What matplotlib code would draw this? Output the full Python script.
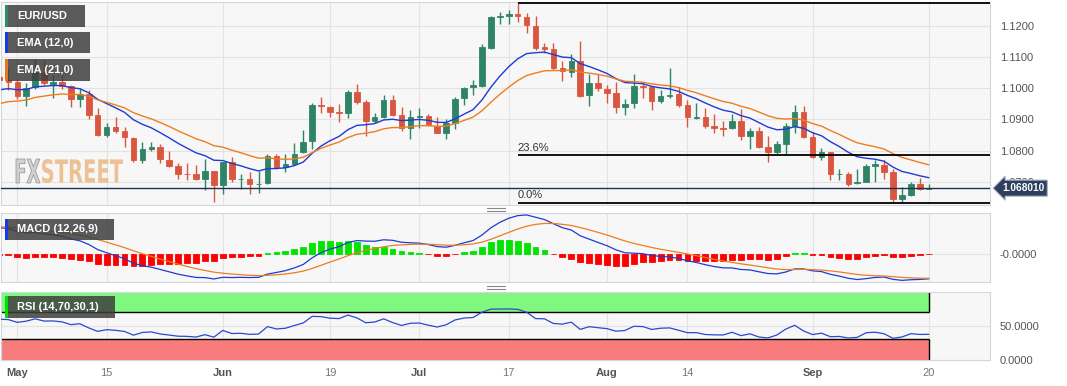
import numpy as np
import matplotlib.pyplot as plt
from matplotlib.patches import Rectangle, PathPatch
from matplotlib.lines import Line2D
from matplotlib.transforms import Affine2D
from matplotlib.textpath import TextPath
from matplotlib.font_manager import FontProperties

plt.rcParams['font.family'] = ['Liberation Sans', 'DejaVu Sans']

''' DATA '''

# EUR/USD daily candles, 27 Apr - 20 Sep 2023
opens = [1.1036, 1.1027, 1.1020, 1.0975, 1.1003, 1.1052, 1.1015, 1.1020, 1.1007, 1.0965,
         1.0980, 1.0914, 1.0850, 1.0875, 1.0862, 1.0840, 1.0769, 1.0804, 1.0811, 1.0769,
         1.0750, 1.0727, 1.0727, 1.0708, 1.0734, 1.0689, 1.0763, 1.0708, 1.0711, 1.0692,
         1.0698, 1.0782, 1.0749, 1.0759, 1.0795, 1.0830, 1.0946, 1.0940, 1.0923, 1.0920,
         1.0987, 1.0956, 1.0894, 1.0907, 1.0962, 1.0914, 1.0872, 1.0907, 1.0911, 1.0879,
         1.0856, 1.0888, 1.0969, 1.1004, 1.1007, 1.1129, 1.1229, 1.1232, 1.1239, 1.1229,
         1.1200, 1.1132, 1.1126, 1.1065, 1.1052, 1.1087, 1.0978, 1.1017, 1.0997, 1.0984,
         1.0940, 1.0952, 1.1007, 1.1003, 1.0959, 1.0976, 1.0981, 1.0946, 1.0905, 1.0907,
         1.0878, 1.0874, 1.0872, 1.0894, 1.0846, 1.0862, 1.0811, 1.0796, 1.0820, 1.0878,
         1.0923, 1.0843, 1.0779, 1.0795, 1.0724, 1.0727, 1.0697, 1.0701, 1.0752, 1.0753,
         1.0731, 1.0644, 1.0657, 1.0692, 1.0678]
highs = [1.1050, 1.1065, 1.1026, 1.1017, 1.1093, 1.1090, 1.1043, 1.1060, 1.1010, 1.1000,
         1.0994, 1.0936, 1.0888, 1.0907, 1.0875, 1.0845, 1.0827, 1.0827, 1.0821, 1.0798,
         1.0760, 1.0760, 1.0753, 1.0772, 1.0736, 1.0765, 1.0779, 1.0724, 1.0731, 1.0734,
         1.0788, 1.0788, 1.0791, 1.0824, 1.0866, 1.0953, 1.0972, 1.0942, 1.0950, 1.0994,
         1.1013, 1.0962, 1.0920, 1.0978, 1.0978, 1.0940, 1.0930, 1.0936, 1.0917, 1.0907,
         1.0901, 1.0972, 1.1003, 1.1026, 1.1142, 1.1232, 1.1245, 1.1251, 1.1274, 1.1242,
         1.1232, 1.1145, 1.1145, 1.1087, 1.1110, 1.1152, 1.1046, 1.1046, 1.1010, 1.1020,
         1.0965, 1.1046, 1.1017, 1.1007, 1.0994, 1.1065, 1.1004, 1.0962, 1.0952, 1.0936,
         1.0917, 1.0894, 1.0916, 1.0933, 1.0872, 1.0875, 1.0846, 1.0830, 1.0888, 1.0946,
         1.0943, 1.0859, 1.0810, 1.0797, 1.0743, 1.0731, 1.0743, 1.0759, 1.0769, 1.0769,
         1.0743, 1.0685, 1.0700, 1.0714, 1.0692]
lows = [1.1015, 1.0994, 1.0965, 1.0943, 1.0997, 1.1010, 1.0968, 1.0997, 1.0940, 1.0940,
        1.0900, 1.0848, 1.0843, 1.0856, 1.0811, 1.0763, 1.0760, 1.0798, 1.0760, 1.0747,
        1.0711, 1.0705, 1.0705, 1.0673, 1.0635, 1.0663, 1.0700, 1.0676, 1.0663, 1.0666,
        1.0692, 1.0740, 1.0731, 1.0755, 1.0793, 1.0804, 1.0920, 1.0907, 1.0891, 1.0904,
        1.0949, 1.0846, 1.0890, 1.0904, 1.0910, 1.0862, 1.0837, 1.0872, 1.0878, 1.0856,
        1.0837, 1.0869, 1.0946, 1.0978, 1.1004, 1.1126, 1.1206, 1.1206, 1.1213, 1.1177,
        1.1123, 1.1113, 1.1059, 1.1023, 1.1036, 1.0972, 1.0943, 1.0990, 1.0953, 1.0920,
        1.0914, 1.0936, 1.0968, 1.0930, 1.0953, 1.0968, 1.0940, 1.0875, 1.0901, 1.0872,
        1.0856, 1.0846, 1.0868, 1.0833, 1.0804, 1.0808, 1.0763, 1.0790, 1.0785, 1.0856,
        1.0840, 1.0776, 1.0770, 1.0705, 1.0705, 1.0686, 1.0695, 1.0699, 1.0701, 1.0711,
        1.0634, 1.0634, 1.0654, 1.0673, 1.0676]
closes = [1.1027, 1.1020, 1.0975, 1.1000, 1.1052, 1.1017, 1.1020, 1.1007, 1.0965, 1.0980,
          1.0914, 1.0850, 1.0875, 1.0863, 1.0843, 1.0769, 1.0804, 1.0811, 1.0772, 1.0750,
          1.0727, 1.0724, 1.0711, 1.0734, 1.0689, 1.0763, 1.0708, 1.0711, 1.0692, 1.0695,
          1.0782, 1.0747, 1.0756, 1.0791, 1.0827, 1.0946, 1.0943, 1.0925, 1.0920, 1.0987,
          1.0956, 1.0895, 1.0907, 1.0962, 1.0914, 1.0872, 1.0907, 1.0911, 1.0882, 1.0856,
          1.0888, 1.0965, 1.1000, 1.1010, 1.1132, 1.1229, 1.1232, 1.1236, 1.1232, 1.1203,
          1.1129, 1.1126, 1.1065, 1.1055, 1.1087, 1.0975, 1.1017, 1.1000, 1.0984, 1.0940,
          1.0949, 1.1007, 1.1003, 1.0959, 1.0975, 1.0979, 1.0946, 1.0907, 1.0907, 1.0878,
          1.0872, 1.0871, 1.0894, 1.0846, 1.0862, 1.0811, 1.0796, 1.0820, 1.0878, 1.0923,
          1.0843, 1.0779, 1.0795, 1.0724, 1.0727, 1.0695, 1.0701, 1.0750, 1.0756, 1.0731,
          1.0644, 1.0657, 1.0692, 1.0679, 1.06801]

# day index 0 = 1 May (two April candles before it)
tick_pos = [0, 10, 23, 35, 45, 55, 66, 75, 89, 102]
tick_labels = ['May', '15', 'Jun', '19', 'Jul', '17', 'Aug', '14', 'Sep', '20']
months = ['May', 'Jun', 'Jul', 'Aug', 'Sep']
price_ticks = [1.07, 1.08, 1.09, 1.10, 1.11, 1.12]

# indicator values at the left edge of the chart (they carry history from before April 27)
ema12_start, ema21_start, ema26_start = 1.0989, 1.0943, 1.0922
signal_start = 0.0067
gain_start, loss_start = 0.0030, 0.0020

''' INDICATORS '''

x = np.arange(len(closes)) - 2
o, h, l, c = (np.array(v) for v in (opens, highs, lows, closes))


def ema(values, n, start):
    a = 2 / (n + 1)
    out, prev = [], start
    for v in values:
        prev = prev + a * (v - prev)
        out.append(prev)
    return np.array(out)


ema12 = ema(c, 12, ema12_start)
ema21 = ema(c, 21, ema21_start)
macd = ema12 - ema(c, 26, ema26_start)
signal = ema(macd, 9, signal_start)
hist = macd - signal

# wilder rsi(14)
g, lo_ = gain_start, loss_start
rsi = [100 - 100 / (1 + g / lo_)]
for d in np.diff(c):
    g = (g * 13 + max(d, 0)) / 14
    lo_ = (lo_ * 13 + max(-d, 0)) / 14
    rsi.append(100 - 100 / (1 + g / lo_))
rsi = np.array(rsi)

''' PLOT '''

W, H = 1067, 386
fig = plt.figure(figsize=(W / 100, H / 100), dpi=100)
px = Affine2D().scale(1 / W, -1 / H).translate(0, 1) + fig.transFigure


def panel(top, bottom, left=0.5, right=990):
    return fig.add_axes([left / W, 1 - bottom / H, (right - left) / W, (bottom - top) / H])


ax = panel(1.5, 204.5)
mx = panel(213.3, 282)
rx = panel(291.7, 360)
xmin, xmax = -1.88, 108.86

for a in (ax, mx, rx):
    a.set_facecolor('#f7f7f7')
    for s in a.spines.values():
        s.set_color('#d3d6db')
    a.set_xlim(xmin, xmax)
    a.set_xticks(tick_pos)
    a.grid(True, color='#e3e3e3', lw=0.8)
    a.set_axisbelow(True)
    a.yaxis.tick_right()
    a.tick_params(length=0, labelsize=8, labelcolor='#555555', pad=7)
    a.tick_params(axis='x', labelbottom=False)

green, red = '#2f8468', '#d9573f'
blue, orange = '#1f3bd1', '#ee7d22'

# candles
col = np.where(c >= o, green, red)
ax.vlines(x, l, h, colors=col, lw=1, zorder=2)
ax.bar(x, np.abs(c - o), bottom=np.minimum(o, c), width=0.62, color=col, edgecolor=col, lw=0.6, zorder=3)
ax.plot(x, ema12, color=blue, lw=1, zorder=4)
ax.plot(x, ema21, color=orange, lw=1, zorder=4)
ax.set_ylim(1.062784, 1.127744)
ax.set_yticks(price_ticks)
ax.set_yticklabels([f'{p:.4f}' for p in price_ticks])

# fibonacci from the july high to the september low
top, bot = h.max(), l.min()
fx = x[np.argmax(h)]
lvl = bot + 0.236 * (top - bot)
ax.hlines([top, lvl, bot], fx, xmax, color='black', lw=1.3, zorder=5)
for val, txt in [(lvl, '23.6%'), (bot, '0.0%')]:
    ax.annotate(txt, (fx, val), xytext=(0, 1.5), textcoords='offset points', ha='left', va='bottom',
                fontsize=8, color='#333333', zorder=6)

# last price
ax.axhline(c[-1], color='#1f3150', lw=1, zorder=5)
ax.text((1002 - 0.5) / 989.5, c[-1], f'{c[-1]:.6f}', transform=ax.get_yaxis_transform(),
        ha='left', va='center', color='white', fontsize=7.3, fontweight='bold', clip_on=False, zorder=10,
        bbox=dict(boxstyle='larrow,pad=0.3', fc='#2d3f5c', ec='#aab4c4', lw=0.8))

# macd
mx.bar(x, hist, width=0.65, color=np.where(hist >= 0, '#00e400', '#ff0000'),
       edgecolor=np.where(hist >= 0, '#00e400', '#ff0000'), lw=0.6, zorder=2)
mx.plot(x, macd, color=blue, lw=0.9, zorder=3)
mx.plot(x, signal, color=orange, lw=0.9, zorder=3)
lo, hi = min(macd.min(), signal.min()), max(macd.max(), signal.max())
mx.set_ylim(lo - (hi - lo) * 0.025, hi + (hi - lo) * 0.025)
mx.set_yticks([0])
mx.set_yticklabels(['-0.0000'])

# rsi
rx.add_patch(Rectangle((xmin, 70), x[-1] - xmin, 30, fc='#80f880', ec='none', zorder=1))
rx.add_patch(Rectangle((xmin, 0), x[-1] - xmin, 30, fc='#f87c7c', ec='none', zorder=1))
rx.hlines([70, 30], xmin, x[-1], color='black', lw=1, zorder=2)
rx.vlines([x[-1], x[-1]], [70, 0], [100, 30], color='black', lw=1, zorder=2)
rx.plot(x, rsi, color='#2a48d0', lw=0.9, zorder=3)
rx.set_ylim(-0.74, 100.9)
rx.set_yticks([0, 50])
rx.set_yticklabels(['0.0000', '50.0000'])
rx.tick_params(axis='x', labelbottom=True, pad=6)
rx.set_xticklabels(tick_labels)
for t in rx.get_xticklabels():
    if t.get_text() in months:
        t.set_fontweight('bold')
        t.set_color('#555555')
    else:
        t.set_color('#777777')


# label boxes
def tag(x0, y0, x1, y1, stripe, text):
    fig.add_artist(Rectangle((x0, y0), x1 - x0, y1 - y0, transform=px, fc='#3e3e3e', alpha=0.85, ec='none'))
    fig.add_artist(Rectangle((x0, y0), 2.5, y1 - y0, transform=px, fc=stripe, ec='none'))
    fig.text(x0 + 12, (y0 + y1) / 2, text, transform=px, color='white', fontsize=8,
             fontweight='bold', va='center', ha='left')


tag(5, 5, 85, 27, '#2e8b6a', 'EUR/USD')
tag(5, 32, 90, 53, '#1a3be0', 'EMA (12,0)')
tag(5, 59, 90, 81, '#e07a1f', 'EMA (21,0)')
tag(5, 218.5, 114, 239.5, '#1a3be0', 'MACD (12,26,9)')
tag(5, 296, 115, 317.5, '#00e000', 'RSI (14,70,30,1)')


# watermark
def stamp(txt, box, fc, ec):
    x0, y0, x1, y1 = box
    tp = TextPath((0, 0), txt, size=40, prop=FontProperties(family='DejaVu Sans', weight='bold'))
    e = tp.get_extents()
    tr = Affine2D().translate(-e.x0, -e.y0).scale((x1 - x0) / e.width, (y1 - y0) / e.height).translate(x0, H - y1)
    fig.add_artist(PathPatch(tp, transform=tr, fc=fc, ec=ec, lw=0.6, alpha=0.8))


stamp('FX', (16, 159, 40, 183), '#c8c8c8', '#8a8a8a')
stamp('STREET', (42, 159, 123, 183), '#ebb47a', 'none')

# panel resize handles
for yy in (208, 210.5, 286, 288.5):
    fig.add_artist(Line2D([487, 505], [yy, yy], transform=px, color='#888888', lw=0.8))

fig.savefig('out.png', dpi=100)
